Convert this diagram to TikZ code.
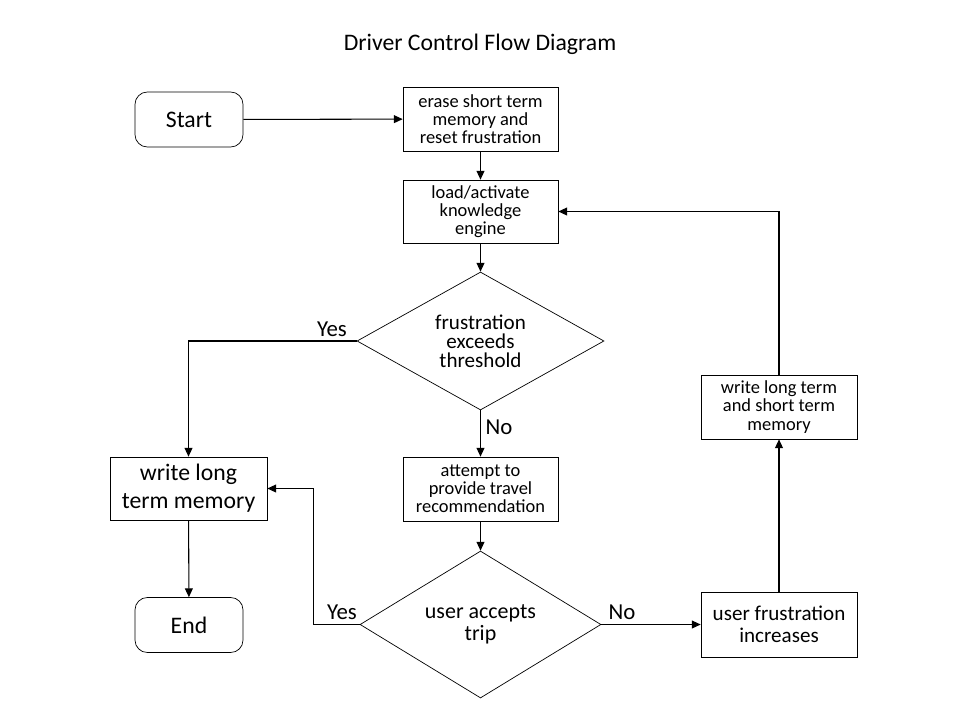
\documentclass[tikz,border=0pt]{standalone}
\usepackage{fontspec}
\setmainfont{Carlito}
\usetikzlibrary{shapes.geometric,arrows.meta}
\begin{document}
\begin{tikzpicture}[x=0.02cm,y=-0.02cm,
    every node/.style={font=\fontsize{10.5}{10.3}\selectfont,align=center,inner sep=0pt},
    terminal/.style={draw,rounded corners=7pt,minimum width=2.16cm,minimum height=1.1cm,font=\fontsize{13.5}{15.9}\selectfont},
    process/.style={draw,minimum width=3.1cm,minimum height=1.28cm},
    bigprocess/.style={process,minimum width=3.14cm,minimum height=1.26cm,font=\fontsize{13.5}{15.9}\selectfont},
    decision/.style={draw,diamond,aspect=1.8},
    answer/.style={font=\fontsize{13}{15}\selectfont},
    flow/.style={-{Triangle[length=5pt,width=4.5pt]},line width=0.6pt}]
  \useasboundingbox (0,0) rectangle (960,720);
  \draw
    (480,44) node (title){\fontsize{13.5}{16}\selectfont Driver Control Flow Diagram}
    (189,119.5) node[terminal] (start){Start}
    (480.5,119) node[process] (erase){erase short term\\memory and\\reset frustration}
    (480.5,211.5) node[process,minimum height=1.26cm] (load){load/activate\\knowledge\\engine}
    (480.5,341) node[decision,minimum width=4.94cm,minimum height=2.76cm,font=\fontsize{12}{10.8}\selectfont] (frust){frustration\\exceeds\\threshold}
    (188.5,488.5) node[bigprocess] (writelong){write long\\term memory}
    (480.5,489) node[process] (attempt){attempt to\\provide travel\\recommendation}
    (480.5,624.5) node[decision,minimum width=4.82cm,minimum height=2.94cm,font=\fontsize{12.5}{12.5}\selectfont] (accepts){user accepts\\trip}
    (189,625) node[terminal] (end){End}
    (779,624.5) node[process,minimum width=3.12cm,minimum height=1.3cm,font=\fontsize{12}{12.5}\selectfont] (increase){user frustration\\increases}
    (779,407) node[process,minimum width=3.12cm] (writeboth){write long term\\and short term\\memory};
  \begin{scope}[flow]
    \draw (start) to (erase);
    \draw (erase) to (load);
    \draw (load) to (frust);
    \draw (frust.west) -| (writelong.north);
    \draw (frust) to (attempt);
    \draw (attempt) to (accepts);
    \draw (accepts.west) -- ++(-46,0) |- (writelong.east);
    \draw (writelong) to (end);
    \draw (accepts) to (increase);
    \draw (increase) to (writeboth);
    \draw (writeboth.north) |- (load.east);
  \end{scope}
  \draw
    (332,329) node[answer] (yes1){Yes}
    (499,427) node[answer] (no1){No}
    (342,612) node[answer] (yes2){Yes}
    (622,612) node[answer] (no2){No};
\end{tikzpicture}
\end{document}
